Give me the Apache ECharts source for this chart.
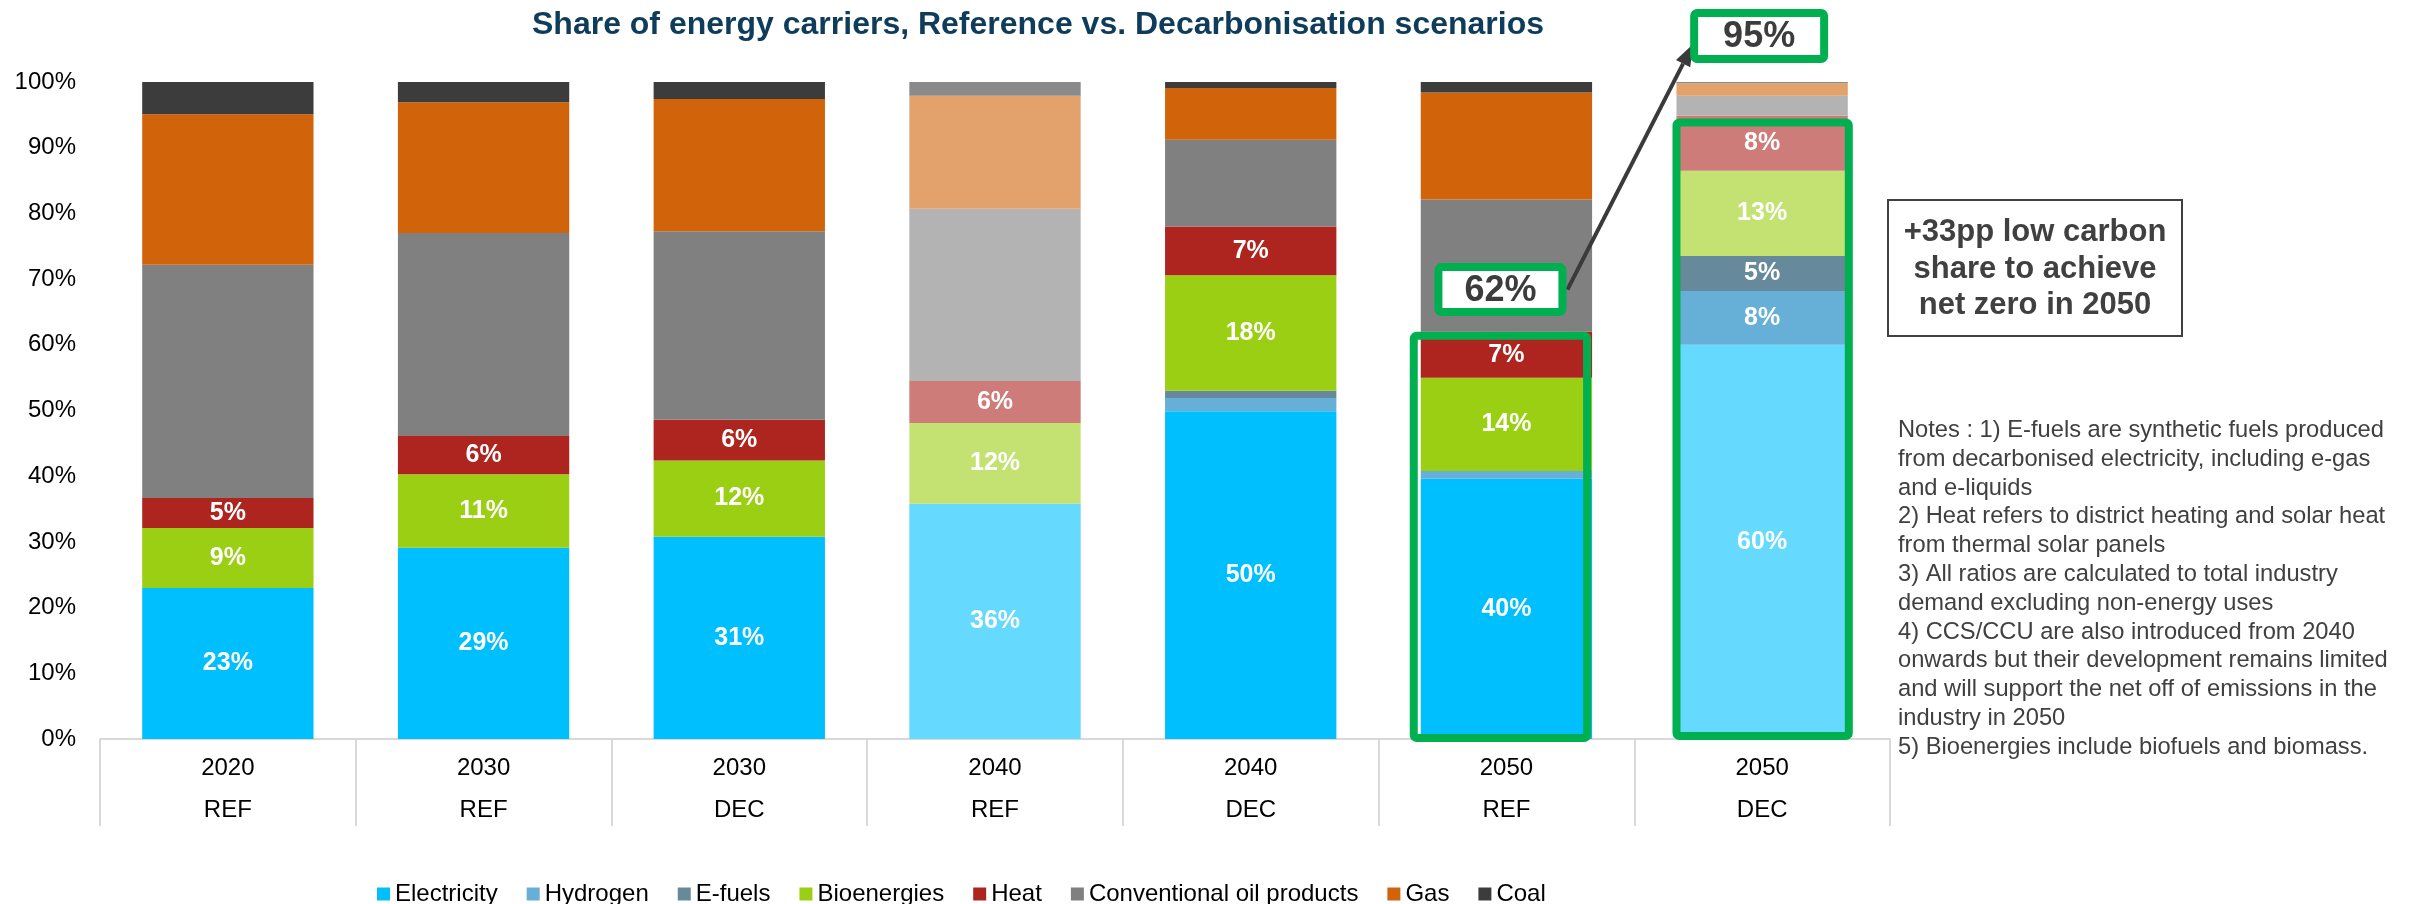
<!DOCTYPE html>
<html>
<head>
<meta charset="utf-8">
<script src="https://cdn.jsdelivr.net/npm/echarts@6/dist/echarts.min.js"></script>
<style>
html,body{margin:0;padding:0;background:#fff;}
#chart{width:2425px;height:904px;}
</style>
</head>
<body>
<div id="chart"></div>
<script>
// ---- data ----
const years = ['2020', '2030', '2030', '2040', '2040', '2050', '2050'];
const scenarios = ['REF', 'REF', 'DEC', 'REF', 'DEC', 'REF', 'DEC'];
const electricity = [23.0, 29.1, 30.8, 35.8, 49.9, 39.6, 60.0];
const hydrogen = [0, 0, 0, 0, 2.0, 1.2, 8.2];
const efuels = [0, 0, 0, 0, 1.1, 0, 5.3];
const bioenergies = [9.1, 11.2, 11.6, 12.3, 17.6, 14.2, 13.0];
const heat = [4.6, 5.8, 6.2, 6.4, 7.4, 7.0, 8.4];
const oilProducts = [35.5, 30.9, 28.7, 26.2, 13.2, 20.1, 3.0];
const gas = [22.9, 19.9, 20.1, 17.2, 7.9, 16.3, 1.9];
const coal = [4.9, 3.1, 2.6, 2.1, 0.9, 1.7, 0.2];
const yTicks = [0, 10, 20, 30, 40, 50, 60, 70, 80, 90, 100];
const seriesNames = ['Electricity', 'Hydrogen', 'E-fuels', 'Bioenergies', 'Heat', 'Conventional oil products', 'Gas', 'Coal'];
const lowCarbonCallouts = ['62%', '95%'];
const notesText = [
  'Notes : 1) E-fuels are synthetic fuels produced',
  'from decarbonised electricity, including e-gas',
  'and e-liquids',
  '2) Heat refers to district heating and solar heat',
  'from thermal solar panels',
  '3) All ratios are calculated to total industry',
  'demand excluding non-energy uses',
  '4) CCS/CCU are also introduced from 2040',
  'onwards but their development remains limited',
  'and will support the net off of emissions in the',
  'industry in 2050',
  '5) Bioenergies include biofuels and biomass.'
];
const boxText = ['+33pp low carbon', 'share to achieve', 'net zero in 2050'];
const titleText = 'Share of energy carriers, Reference vs. Decarbonisation scenarios';

// ---- styling ----
const FONT = "'Liberation Sans', Arial, sans-serif";
const colors = ['#00bfff', '#66afd6', '#668a9c', '#9bcf14', '#ae2520', '#808080', '#d1640a', '#3c3c3c'];
const lightBars = [3, 6];            // bars drawn in faded tone
const noFadeInLast = [1, 2];         // hydrogen & e-fuels not faded
const labelled = [true, true, true, true, true, false, false, false];
const GREEN = '#00b050';

function fade(hex, a) {
  const n = parseInt(hex.slice(1), 16);
  const r = (n >> 16) & 255, g = (n >> 8) & 255, b = n & 255;
  const f = c => Math.round(c * a + 255 * (1 - a));
  return 'rgb(' + f(r) + ',' + f(g) + ',' + f(b) + ')';
}

const allSeries = [electricity, hydrogen, efuels, bioenergies, heat, oilProducts, gas, coal];
const cats = years.map((y, i) => y + '\n' + scenarios[i]);

const chart = echarts.init(document.getElementById('chart'), null, {renderer: 'canvas'});

const series = allSeries.map((arr, s) => ({
  name: seriesNames[s],
  type: 'bar',
  stack: 'total',
  barCategoryGap: '33%',
  itemStyle: {color: colors[s]},
  label: {
    show: labelled[s],
    position: 'inside',
    color: '#fff',
    fontFamily: FONT,
    fontWeight: 'bold',
    fontSize: 25,
    formatter: p => (p.value >= 3 ? Math.round(p.value) + '%' : '')
  },
  emphasis: {disabled: true},
  data: arr.map((v, i) => {
    let faded = lightBars.includes(i);
    if (i === 6 && noFadeInLast.includes(s)) faded = false;
    return faded ? {value: v, itemStyle: {color: fade(colors[s], 0.6)}} : v;
  })
}));

const option = {
  animation: false,
  backgroundColor: '#fff',
  grid: {left: 100, right: 535, top: 82, bottom: 165, containLabel: false},
  legend: {
    data: seriesNames,
    left: 372,
    top: 877,
    icon: 'rect',
    itemWidth: 13,
    itemHeight: 13,
    itemGap: 29,
    textStyle: {fontFamily: FONT, fontSize: 24, color: '#000'}
  },
  xAxis: {
    type: 'category',
    data: cats,
    axisLine: {show: true, lineStyle: {color: '#d9d9d9', width: 2}},
    axisTick: {show: true, length: 87, interval: 0, lineStyle: {color: '#d9d9d9', width: 2}},
    axisLabel: {
      interval: 0, margin: 8, color: '#000', fontFamily: FONT, fontSize: 24, lineHeight: 42
    }
  },
  yAxis: {
    type: 'value',
    min: yTicks[0],
    max: yTicks[yTicks.length - 1],
    interval: yTicks[1] - yTicks[0],
    splitLine: {show: false},
    axisLine: {show: false},
    axisTick: {show: false},
    axisLabel: {formatter: '{value}%', color: '#000', fontFamily: FONT, fontSize: 24, margin: 24}
  },
  series: series
};
chart.setOption(option);

// ---- annotations positioned from the axes ----
const px = (i, v) => chart.convertToPixel({xAxisIndex: 0, yAxisIndex: 0}, [i, v]);
const band = px(1, 0)[0] - px(0, 0)[0];
const barW = band * 0.67;
const lowCarbon = i => electricity[i] + hydrogen[i] + efuels[i] + bioenergies[i] + heat[i];
const y0 = px(0, 0)[1];

const graphics = [];
// title
graphics.push({
  type: 'text', x: 1038, y: 25,
  style: {text: titleText, font: 'bold 32px ' + FONT, fill: '#0f3c5a', textAlign: 'center', textVerticalAlign: 'middle'}
});

// green outline around low-carbon part, 2050 REF
{
  const c = px(5, 0)[0];
  const top = px(5, lowCarbon(5))[1];
  graphics.push({
    type: 'rect', z: 10,
    shape: {x: c - barW / 2 - 7, y: top + 4, width: barW + 2, height: y0 - 1 - (top + 4), r: 3},
    style: {fill: 'none', stroke: GREEN, lineWidth: 8}
  });
}
// green outline, 2050 DEC
{
  const c = px(6, 0)[0];
  const top = px(6, lowCarbon(6))[1];
  graphics.push({
    type: 'rect', z: 10,
    shape: {x: c - barW / 2, y: top + 7, width: barW + 1, height: y0 - 3 - (top + 7), r: 3},
    style: {fill: 'none', stroke: GREEN, lineWidth: 8}
  });
}
// callout boxes
const b1 = px(5, 68.4); b1[0] -= 6;
const b2 = px(6, 107);  b2[0] -= 3;
[[b1, 124, 45, lowCarbonCallouts[0]], [b2, 130, 46, lowCarbonCallouts[1]]].forEach(([p, w, h, t]) => {
  graphics.push({
    type: 'rect', z: 20,
    shape: {x: p[0] - w / 2, y: p[1] - h / 2, width: w, height: h, r: 3},
    style: {fill: '#fff', stroke: GREEN, lineWidth: 8}
  });
  graphics.push({
    type: 'text', z: 21, x: p[0], y: p[1] + 1,
    style: {text: t, font: 'bold 36px ' + FONT, fill: '#3c3c3c', textAlign: 'center', textVerticalAlign: 'middle'}
  });
});
// arrow from 62% box to 95% box
{
  const sx = b1[0] + 124 / 2 + 5, sy = b1[1];
  const ex = b2[0] - 130 / 2 - 1, ey = b2[1] + 8;
  const ang = Math.atan2(ey - sy, ex - sx);
  const hl = 22, hw = 8;
  const bx = ex - hl * Math.cos(ang), by = ey - hl * Math.sin(ang);
  const nx = -Math.sin(ang), ny = Math.cos(ang);
  graphics.push({
    type: 'line', z: 15,
    shape: {x1: sx, y1: sy, x2: bx, y2: by},
    style: {stroke: '#3a3a3a', lineWidth: 4}
  });
  graphics.push({
    type: 'polygon', z: 15,
    shape: {points: [[ex, ey], [bx + nx * hw, by + ny * hw], [bx - nx * hw, by - ny * hw]]},
    style: {fill: '#3a3a3a'}
  });
}
// text box
graphics.push({
  type: 'rect', z: 5,
  shape: {x: 1888, y: 200, width: 294, height: 136},
  style: {fill: '#fff', stroke: '#404040', lineWidth: 2}
});
graphics.push({
  type: 'text', z: 6, x: 2035, y: 269,
  style: {text: boxText.join('\n'), font: 'bold 31px ' + FONT, lineHeight: 36.5, fill: '#404040', textAlign: 'center', textVerticalAlign: 'middle'}
});
// notes
graphics.push({
  type: 'text', z: 6, x: 1898, y: 416,
  style: {text: notesText.join('\n'), font: '23.7px ' + FONT, lineHeight: 28.8, fill: '#404040', textAlign: 'left', textVerticalAlign: 'top'}
});

chart.setOption({graphic: graphics});
</script>
</body>
</html>
